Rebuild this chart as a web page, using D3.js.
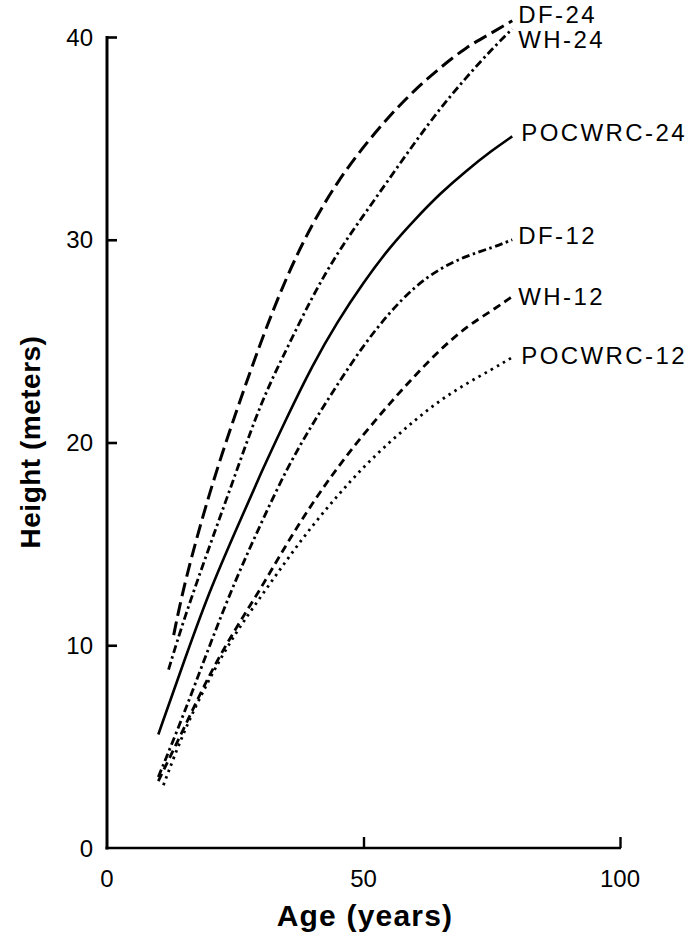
<!DOCTYPE html>
<html>
<head>
<meta charset="utf-8">
<script src="https://cdn.jsdelivr.net/npm/d3@7"></script>
<style>
  html, body { margin: 0; padding: 0; background: #fff; }
  svg { display: block; }
  text { font-family: "Liberation Sans", Arial, Helvetica, sans-serif; fill: #000; }
</style>
</head>
<body>
<svg id="chart" width="694" height="938"></svg>
<script>
// ---- data ----
const seriesNames = ["DF-24", "WH-24", "POCWRC-24", "DF-12", "WH-12", "POCWRC-12"];

const agesDF24 = [13, 15, 20, 25, 30, 35, 40, 45, 50, 55, 60, 65, 70, 75, 79];
const hDF24    = [10.5, 13.0, 17.6, 21.4, 25.0, 28.2, 30.8, 32.9, 34.6, 36.1, 37.4, 38.5, 39.5, 40.2, 40.8];

const agesWH24 = [12, 15, 20, 25, 30, 35, 40, 45, 50, 55, 60, 65, 70, 75, 79];
const hWH24    = [8.8, 11.3, 14.9, 18.4, 22.0, 24.6, 27.2, 29.4, 31.2, 33.0, 34.8, 36.5, 38.0, 39.4, 40.4];

const agesPOC24 = [10, 15, 20, 25, 30, 35, 40, 45, 50, 55, 60, 65, 70, 75, 79];
const hPOC24    = [5.6, 9.2, 12.7, 15.6, 18.5, 21.2, 23.8, 26.0, 27.9, 29.6, 31.0, 32.3, 33.4, 34.4, 35.1];

const agesDF12 = [10, 15, 20, 25, 30, 35, 40, 45, 50, 55, 60, 65, 70, 75, 79];
const hDF12    = [3.5, 6.6, 10.0, 13.2, 16.0, 18.7, 20.9, 22.9, 24.8, 26.4, 27.7, 28.6, 29.2, 29.6, 30.0];

const agesWH12 = [10, 15, 20, 25, 30, 35, 40, 45, 50, 55, 60, 65, 70, 75, 79];
const hWH12    = [3.3, 5.9, 8.6, 10.8, 12.8, 15.0, 17.0, 18.8, 20.4, 21.9, 23.3, 24.6, 25.7, 26.5, 27.2];

const agesPOC12 = [11, 15, 20, 25, 30, 35, 40, 45, 50, 55, 60, 65, 70, 75, 79];
const hPOC12    = [3.1, 5.8, 8.4, 10.6, 12.4, 14.2, 15.9, 17.4, 18.8, 20.0, 21.1, 22.1, 22.9, 23.6, 24.2];

// heights at which the end labels sit
const labelHeights = [41.1, 39.9, 35.3, 30.2, 27.2, 24.3];

const xTicks = [0, 50, 100];
const yTicks = [0, 10, 20, 30, 40];
const xTitle = "Age (years)";
const yTitle = "Height (meters)";

// ---- build ----
const ages = [agesDF24, agesWH24, agesPOC24, agesDF12, agesWH12, agesPOC12];
const heights = [hDF24, hWH24, hPOC24, hDF12, hWH12, hPOC12];
const series = seriesNames.map((name, i) => ({
  name,
  points: ages[i].map((a, j) => ({ age: a, h: heights[i][j] })),
  labelH: labelHeights[i]
}));

const styles = {
  "DF-24":     { dash: "14,6",        width: 3.0 },
  "WH-24":     { dash: "8,3.5,2.5,3.5", width: 2.8 },
  "POCWRC-24": { dash: null,          width: 2.6 },
  "DF-12":     { dash: "8,3.5,2.5,3.5", width: 2.8 },
  "WH-12":     { dash: "8,5",         width: 2.8 },
  "POCWRC-12": { dash: "2.5,4.5",     width: 2.8 }
};

const svg = d3.select("#chart");
const x = d3.scaleLinear().domain([0, 100]).range([107, 620]);
const y = d3.scaleLinear().domain([0, 40]).range([848, 37]);

// axes lines
svg.append("line")
  .attr("x1", x(0)).attr("x2", x(0))
  .attr("y1", y(40) - 1).attr("y2", y(0) + 1.5)
  .attr("stroke", "#000").attr("stroke-width", 3);
svg.append("line")
  .attr("x1", x(0) - 1.5).attr("x2", x(100) + 1)
  .attr("y1", y(0)).attr("y2", y(0))
  .attr("stroke", "#000").attr("stroke-width", 2.6);

// y ticks (inward)
const yAxis = d3.axisRight(y).tickValues(yTicks.filter(v => v > 0)).tickSize(10).tickFormat("");
const gy = svg.append("g").attr("transform", `translate(${x(0)},0)`).call(yAxis);
gy.select(".domain").remove();
gy.selectAll(".tick line").attr("stroke", "#000").attr("stroke-width", 2.6);

// x ticks (inward)
const xAxis = d3.axisTop(x).tickValues(xTicks.filter(v => v > 0)).tickSize(11).tickFormat("");
const gx = svg.append("g").attr("transform", `translate(0,${y(0)})`).call(xAxis);
gx.select(".domain").remove();
gx.selectAll(".tick line").attr("stroke", "#000").attr("stroke-width", 2.4);

// tick labels
svg.selectAll(".ylab").data(yTicks).enter().append("text")
  .attr("class", "ylab")
  .attr("x", 93).attr("y", d => y(d)).attr("dy", "0.36em")
  .attr("text-anchor", "end").attr("font-size", 24)
  .text(d => d);
svg.selectAll(".xlab").data(xTicks).enter().append("text")
  .attr("class", "xlab")
  .attr("x", d => x(d)).attr("y", 887)
  .attr("text-anchor", "middle").attr("font-size", 24)
  .text(d => d);

// titles
svg.append("text")
  .attr("x", 365).attr("y", 926)
  .attr("text-anchor", "middle").attr("font-size", 30).attr("font-weight", "bold")
  .attr("letter-spacing", 1.2)
  .text(xTitle);
svg.append("text")
  .attr("transform", `translate(40,442) rotate(-90)`)
  .attr("text-anchor", "middle").attr("font-size", 28).attr("font-weight", "bold")
  .attr("letter-spacing", 0.5)
  .text(yTitle);

// curves
const line = d3.line().x(d => x(d.age)).y(d => y(d.h)).curve(d3.curveBasis);
svg.selectAll(".curve").data(series).enter().append("path")
  .attr("class", "curve")
  .attr("d", d => line(d.points))
  .attr("fill", "none")
  .attr("stroke", "#000")
  .attr("stroke-width", d => styles[d.name].width)
  .attr("stroke-dasharray", d => styles[d.name].dash)
  .attr("stroke-linecap", "butt");

// end labels
svg.selectAll(".clab").data(series).enter().append("text")
  .attr("class", "clab")
  .attr("x", d => x(d.points[d.points.length - 1].age) + (d.name.startsWith("POC") ? 9 : 6))
  .attr("y", d => y(d.labelH)).attr("dy", "0.36em")
  .attr("font-size", 24).attr("letter-spacing", 2.4)
  .text(d => d.name);
</script>
</body>
</html>
